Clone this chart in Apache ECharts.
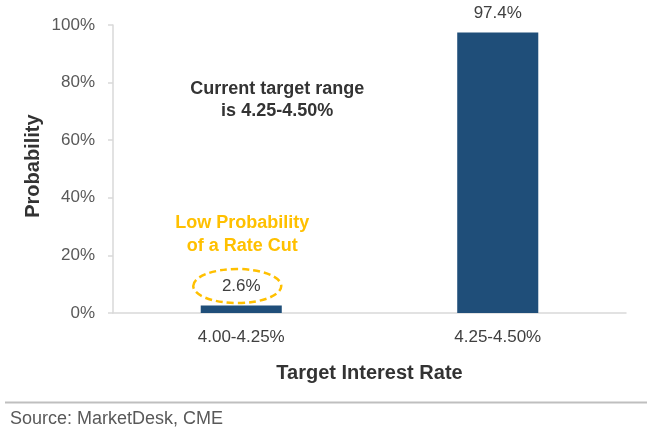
<!DOCTYPE html>
<html>
<head>
<meta charset="utf-8">
<script src="https://cdn.jsdelivr.net/npm/echarts@6/dist/echarts.min.js"></script>
<style>
html,body{margin:0;padding:0;background:#fff;}
#chart{width:657px;height:435px;}
</style>
</head>
<body>
<div id="chart"></div>
<script>
const categories = ['4.00-4.25%', '4.25-4.50%'];
const probabilities = [2.6, 97.4];
const yTickMin = 0, yTickMax = 100, yTickStep = 20;
const yTitle = 'Probability';
const noteCurrent = 'Current target range\nis 4.25-4.50%';
const noteLow = 'Low Probability\nof a Rate Cut';
const sourceText = 'Source: MarketDesk, CME';

const FONT = '"Liberation Sans", Arial, sans-serif';
const chart = echarts.init(document.getElementById('chart'), null, {renderer: 'canvas'});

const option = {
  animation: false,
  backgroundColor: '#ffffff',
  grid: {left: 113, right: 31, top: 25, bottom: 122},
  xAxis: {
    type: 'category',
    data: categories,
    name: 'Target Interest Rate',
    nameLocation: 'middle',
    nameGap: 50,
    nameTextStyle: {fontFamily: FONT, fontSize: 20, fontWeight: 'bold', color: '#333333'},
    axisLine: {lineStyle: {color: '#d9d9d9', width: 1.5}},
    axisTick: {show: false},
    axisLabel: {fontFamily: FONT, fontSize: 17, color: '#404040', margin: 16}
  },
  yAxis: {
    type: 'value',
    min: yTickMin, max: yTickMax, interval: yTickStep,
    axisLine: {show: true, lineStyle: {color: '#d9d9d9', width: 1.5}},
    axisTick: {show: true, length: 5, lineStyle: {color: '#d9d9d9', width: 1.5}},
    splitLine: {show: false},
    axisLabel: {fontFamily: FONT, fontSize: 17, color: '#595959', margin: 18,
      formatter: v => v + '%'}
  },
  series: [{
    type: 'bar',
    data: probabilities,
    barWidth: '31.6%',
    itemStyle: {color: '#1F4E79'},
    label: {show: true, position: 'top', distance: 11, fontFamily: FONT, fontSize: 17,
      color: '#404040', formatter: p => p.value.toFixed(1) + '%'}
  }]
};
chart.setOption(option);

function addGraphics() {
  const c0 = chart.convertToPixel({xAxisIndex: 0, yAxisIndex: 0}, [0, probabilities[0]]);
  const c1 = chart.convertToPixel({xAxisIndex: 0, yAxisIndex: 0}, [1, probabilities[1]]);
  const yCur = chart.convertToPixel({yAxisIndex: 0}, 74);
  const yLow = chart.convertToPixel({yAxisIndex: 0}, 27.3);
  const yMid = chart.convertToPixel({yAxisIndex: 0}, 51);
  const xCur = c0[0] + 0.14 * (c1[0] - c0[0]);
  chart.setOption({
    graphic: [
      {
        type: 'text',
        x: 33, y: yMid, rotation: Math.PI / 2,
        style: {text: yTitle, fill: '#333333', font: 'bold 20px ' + FONT,
          align: 'center', verticalAlign: 'middle'}
      },
      {
        type: 'ellipse',
        shape: {cx: c0[0] - 4, cy: c0[1] - 19.5, rx: 44, ry: 17},
        style: {fill: 'none', stroke: '#FFC000', lineWidth: 2.5, lineDash: [7, 4]},
        z: 10
      },
      {
        type: 'text',
        x: xCur, y: yCur,
        style: {text: noteCurrent, fill: '#333333', font: 'bold 18px ' + FONT,
          align: 'center', verticalAlign: 'middle', lineHeight: 22.5}
      },
      {
        type: 'text',
        x: c0[0] + 1, y: yLow,
        style: {text: noteLow, fill: '#FFC000', font: 'bold 18px ' + FONT,
          align: 'center', verticalAlign: 'middle', lineHeight: 22.5}
      },
      {
        type: 'line',
        shape: {x1: 5, y1: 402.5, x2: 647, y2: 402.5},
        style: {stroke: '#bfbfbf', lineWidth: 2}
      },
      {
        type: 'text',
        x: 10, y: 419,
        style: {text: sourceText, fill: '#595959', font: '18px ' + FONT,
          align: 'left', verticalAlign: 'middle'}
      }
    ]
  });
}
addGraphics();
</script>
</body>
</html>
